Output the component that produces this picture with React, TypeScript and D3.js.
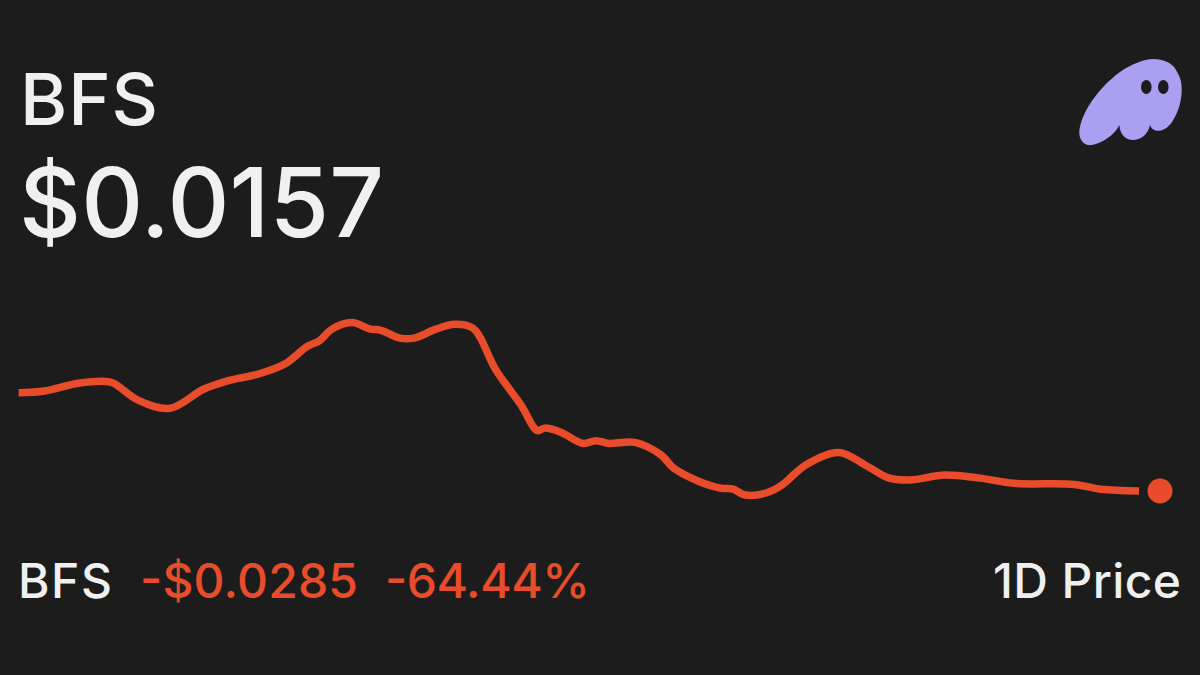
import React, { useRef, useEffect } from "react";
import * as d3 from "d3";

// hours since the start of the 1D window
const hours = [
  0, 0.56, 1.28, 1.89, 2.04, 2.58, 3.24, 3.96, 4.42, 5.19, 5.73, 6.18, 6.45,
  6.71, 7.14, 7.52, 7.78, 8.17, 8.47, 8.94, 9.34, 9.73, 9.88, 10.2, 10.76,
  11.11, 11.27, 11.6, 12.09, 12.37, 12.64, 13.2, 13.76, 14.03, 14.55, 15.05,
  15.29, 15.57, 16.03, 16.35, 16.86, 17.57, 18.17, 18.63, 19.09, 19.84, 20.59,
  21.32, 22.62, 23.18, 24,
];
const prices = [
  0.044, 0.0445, 0.0467, 0.0472, 0.0467, 0.0417, 0.0395, 0.045, 0.0472, 0.0496,
  0.0525, 0.0573, 0.059, 0.0623, 0.0642, 0.0624, 0.0619, 0.0597, 0.0597, 0.0623,
  0.0637, 0.0626, 0.0601, 0.0511, 0.0405, 0.0331, 0.0338, 0.0327, 0.0294,
  0.0302, 0.0294, 0.0297, 0.0261, 0.0223, 0.0186, 0.0165, 0.0163, 0.01455,
  0.0152, 0.0174, 0.0232, 0.0268, 0.0229, 0.0195, 0.0189, 0.0203, 0.0194,
  0.0179, 0.0176, 0.0162, 0.0157,
];
const latestHour = 24.45;
const latestPrice = 0.0157;

const symbol = "BFS";
const priceLabel = "$0.0157";
const changeLabel = "-$0.0285";
const percentLabel = "-64.44%";
const rangeLabel = "1D Price";

const BG = "#1c1c1c";
const RED = "#e84c2b";
const WHITE = "#f0f0f0";
const PURPLE = "#ab9ff2";

const App = () => {
  const svgRef = useRef<SVGSVGElement | null>(null);

  useEffect(() => {
    const svg = d3.select(svgRef.current);
    svg.selectAll("*").remove();

    const xScale = d3.scaleLinear().domain([0, 24]).range([18.6, 1139]);
    // 0.0157 sits at y=491, one px is about 0.000288
    const yScale = d3.scaleLinear().domain([0.0157, 0.0442]).range([491, 392]);

    const line = d3
      .line<number>()
      .x((_, i) => xScale(hours[i]))
      .y((d) => yScale(d))
      .curve(d3.curveCatmullRom.alpha(0.5));

    svg
      .append("path")
      .attr("d", line(prices))
      .attr("fill", "none")
      .attr("stroke", RED)
      .attr("stroke-width", 7.5)
      .attr("stroke-linejoin", "round");

    svg
      .append("circle")
      .attr("cx", xScale(latestHour))
      .attr("cy", yScale(latestPrice))
      .attr("r", 12.5)
      .attr("fill", RED);

    const addText = (
      text: string,
      x: number,
      y: number,
      size: number,
      fill: string,
      width: number,
      anchor = "start"
    ) =>
      svg
        .append("text")
        .attr("x", x)
        .attr("y", y)
        .attr("font-family", "Inter, sans-serif")
        .attr("font-size", size)
        .attr("font-weight", 500)
        .attr("fill", fill)
        .attr("text-anchor", anchor)
        .attr("textLength", width)
        .attr("lengthAdjust", "spacing")
        .text(text);

    addText(symbol, 20, 125, 72, WHITE, 138);
    addText(priceLabel, 19, 237, 96, WHITE, 365);
    addText(symbol, 18, 598, 48, WHITE, 94);
    addText(changeLabel, 140, 598, 48, RED, 218);
    addText(percentLabel, 385, 598, 48, RED, 205);
    addText(rangeLabel, 993, 598, 48, WHITE, 188);

    // logo
    svg
      .append("path")
      .attr(
        "d",
        "M1079.3,131.7 C1081,113 1098,88 1120,72 C1133,63 1145,59 1153.3,59 C1165,59 1173,64 1176,70 C1181,78 1182,84 1181.7,92 C1181,105 1177,114 1172,122 C1166,131 1154,135 1150,125 C1148,135 1140,140 1133,140 C1126,140 1120,135 1119.3,125 C1115,135 1102,143 1092,145 C1084,146 1079,140 1079.3,131.7 Z"
      )
      .attr("fill", PURPLE);
    [1146.3, 1163.3].forEach((cx) => {
      svg
        .append("ellipse")
        .attr("cx", cx)
        .attr("cy", 87)
        .attr("rx", 5.3)
        .attr("ry", 7)
        .attr("fill", BG);
    });
  }, []);

  return (
    <svg
      ref={svgRef}
      width={1200}
      height={675}
      style={{ position: "fixed", left: 0, top: 0, background: BG }}
    />
  );
};

export default App;
